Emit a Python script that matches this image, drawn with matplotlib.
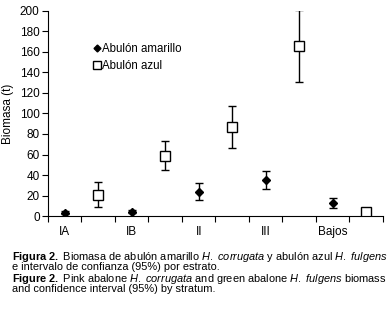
import numpy as np
import matplotlib
matplotlib.use('Agg')
import matplotlib.pyplot as plt
from matplotlib.lines import Line2D

plt.rcParams['font.family'] = 'Liberation Sans'
plt.rcParams['mathtext.fontset'] = 'custom'
plt.rcParams['mathtext.rm'] = 'Liberation Sans'
plt.rcParams['mathtext.it'] = 'Liberation Sans:italic'
plt.rcParams['mathtext.bf'] = 'Liberation Sans:bold'

# Data
estratos = ['IA', 'IB', 'II', 'III', 'Bajos']
amarillo = [3.2, 4.2, 23.5, 35, 12.4]
amarillo_lo = [1.8, 2.8, 15.5, 26, 7.5]
amarillo_hi = [4.6, 5.6, 32, 43.6, 17.3]
azul = [21, 58.5, 86.5, 166, 3.9]
azul_lo = [8.5, 44.6, 66, 131, 1.6]
azul_hi = [33.5, 73, 107, 200.5, 6.8]

x_am = np.arange(len(estratos)) * 2 + 0.5
x_az = x_am + 1

fig = plt.figure(figsize=(3.9, 3.1), dpi=100)
ax = fig.add_axes([0.123, 0.303, 0.859, 0.662])

ax.errorbar(x_am, amarillo,
            yerr=[np.subtract(amarillo, amarillo_lo), np.subtract(amarillo_hi, amarillo)],
            fmt='D', color='black', ms=4.5, capsize=2.9, elinewidth=1, capthick=1)
ax.errorbar(x_az, azul,
            yerr=[np.subtract(azul, azul_lo), np.subtract(azul_hi, azul)],
            fmt='s', mfc='white', mec='black', color='black', ms=7.3, mew=1,
            capsize=2.9, elinewidth=1, capthick=1)

ax.set_xlim(0, 10)
ax.set_ylim(0, 200)
ax.set_yticks(np.arange(0, 201, 20))
ax.set_xticks(np.arange(0, 11, 1))
ax.set_xticklabels([])
ax.set_xticks(x_am, minor=True)
ax.set_xticklabels(estratos, minor=True)
ax.tick_params(axis='x', which='minor', length=0, labelsize=8.5, pad=7)
ax.tick_params(axis='x', which='major', length=4, direction='out')
ax.tick_params(axis='y', labelsize=8.5, length=4, direction='out', pad=2)
ax.spines['top'].set_visible(False)
ax.spines['right'].set_visible(False)
ax.set_ylabel('Biomasa (t)', fontsize=8.5, labelpad=4)

handles = [Line2D([], [], marker='D', ls='none', color='black', ms=3.5),
           Line2D([], [], marker='s', ls='none', mfc='white', mec='black', ms=6, mew=1)]
ax.legend(handles, ['Abulón amarillo', 'Abulón azul'], loc='upper left',
          bbox_to_anchor=(0.118, 0.865), frameon=False,
          fontsize=8.3, handletextpad=0.05, labelspacing=0.4, handlelength=0.8,
          borderaxespad=0)

# Caption (bold / italic parts via mathtext)
cap = 7.9
x0 = 0.031
fig.text(x0, 0.1629, r'$\mathbf{Figura\ 2.}$ Biomasa de abulón amarillo $\mathit{H.\ corrugata}$ y abulón azul $\mathit{H.\ fulgens}$',
         fontsize=cap, va='baseline')
fig.text(x0, 0.1290, 'e intervalo de confianza (95%) por estrato.', fontsize=cap, va='baseline')
fig.text(x0, 0.0919, r'$\mathbf{Figure\ 2.}$ Pink abalone $\mathit{H.\ corrugata}$ and green abalone $\mathit{H.\ fulgens}$ biomass',
         fontsize=cap, va='baseline')
fig.text(x0, 0.0581, 'and confidence interval (95%) by stratum.', fontsize=cap, va='baseline')

fig.savefig('out.png', dpi=100)
